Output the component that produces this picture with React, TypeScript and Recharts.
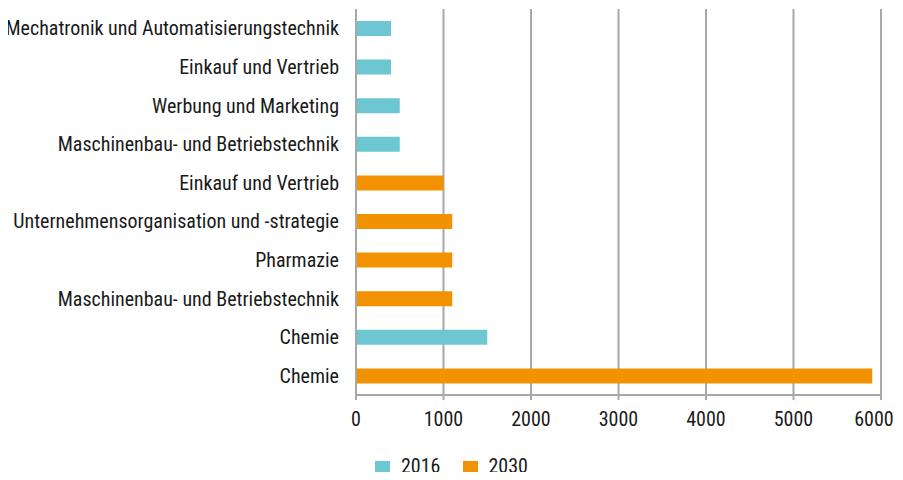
import { BarChart, Bar, XAxis, YAxis, CartesianGrid, Legend } from 'recharts';

const categories = [
  'Mechatronik und Automatisierungstechnik',
  'Einkauf und Vertrieb',
  'Werbung und Marketing',
  'Maschinenbau- und Betriebstechnik',
  'Einkauf und Vertrieb',
  'Unternehmensorganisation und -strategie',
  'Pharmazie',
  'Maschinenbau- und Betriebstechnik',
  'Chemie',
  'Chemie',
];
const values2016 = [400, 400, 500, 500, null, null, null, null, 1500, null];
const values2030 = [null, null, null, null, 1000, 1100, 1100, 1100, null, 5900];
const xTicks = [0, 1000, 2000, 3000, 4000, 5000, 6000];
const rowEdges = [0, 1, 2, 3, 4, 5, 6, 7, 8, 9, 10];

const data = categories.map((name, i) => ({
  key: i,
  name,
  y2016: values2016[i],
  y2030: values2030[i],
}));

const FONT = "'Roboto Condensed', 'DejaVu Sans Condensed', 'DejaVu Sans', sans-serif";
const GRID = '#a8a8a8';
const TEXT = '#1a1a1a';

// last label is pulled in a bit so it stays inside the picture
const XTick = (props: any) => {
  const { x, y, payload, index } = props;
  const shift = index === xTicks.length - 1 ? -7 : 0;
  return (
    <text x={x + shift} y={y} dy="0.71em" textAnchor="middle" fill={TEXT} fontSize={20}>
      {payload.value}
    </text>
  );
};

export default function App() {
  return (
    <div style={{ margin: -8, fontFamily: FONT, fontStretch: 'condensed' }}>
      <BarChart
        width={903}
        height={480}
        data={data}
        layout="vertical"
        margin={{ top: 9, right: 22, left: 0, bottom: 3 }}
      >
        <CartesianGrid horizontal={false} stroke={GRID} strokeWidth={2} yAxisId="cat" />
        <XAxis
          type="number"
          domain={[0, 6000]}
          ticks={xTicks}
          interval={0}
          height={58}
          tickSize={5}
          tickMargin={12}
          axisLine={{ stroke: GRID, strokeWidth: 2 }}
          tickLine={{ stroke: GRID, strokeWidth: 2 }}
          tick={<XTick />}
        />
        <YAxis
          yAxisId="edges"
          type="number"
          domain={[0, 10]}
          ticks={rowEdges}
          interval={0}
          width={0}
          tick={false}
          tickSize={5}
          axisLine={false}
          tickLine={{ stroke: GRID, strokeWidth: 2 }}
        />
        <YAxis
          yAxisId="cat"
          type="category"
          dataKey="key"
          width={356}
          tickFormatter={(i: number) => categories[i]}
          interval={0}
          tickLine={false}
          tickMargin={11}
          axisLine={{ stroke: GRID, strokeWidth: 2 }}
          tick={{ fill: TEXT, fontSize: 20 }}
        />
        <Legend
          verticalAlign="bottom"
          iconType="square"
          iconSize={15}
          wrapperStyle={{ left: 0, width: 903, paddingLeft: 11, top: 454 }}
          formatter={(v: string) => (
            <span style={{ color: TEXT, fontSize: 20, marginLeft: 7, marginRight: 12 }}>{v}</span>
          )}
        />
        <Bar yAxisId="cat" dataKey="y2016" name="2016" stackId="a" fill="#6cc7d2" barSize={15} isAnimationActive={false} />
        <Bar yAxisId="cat" dataKey="y2030" name="2030" stackId="a" fill="#f39200" barSize={15} isAnimationActive={false} />
      </BarChart>
    </div>
  );
}
